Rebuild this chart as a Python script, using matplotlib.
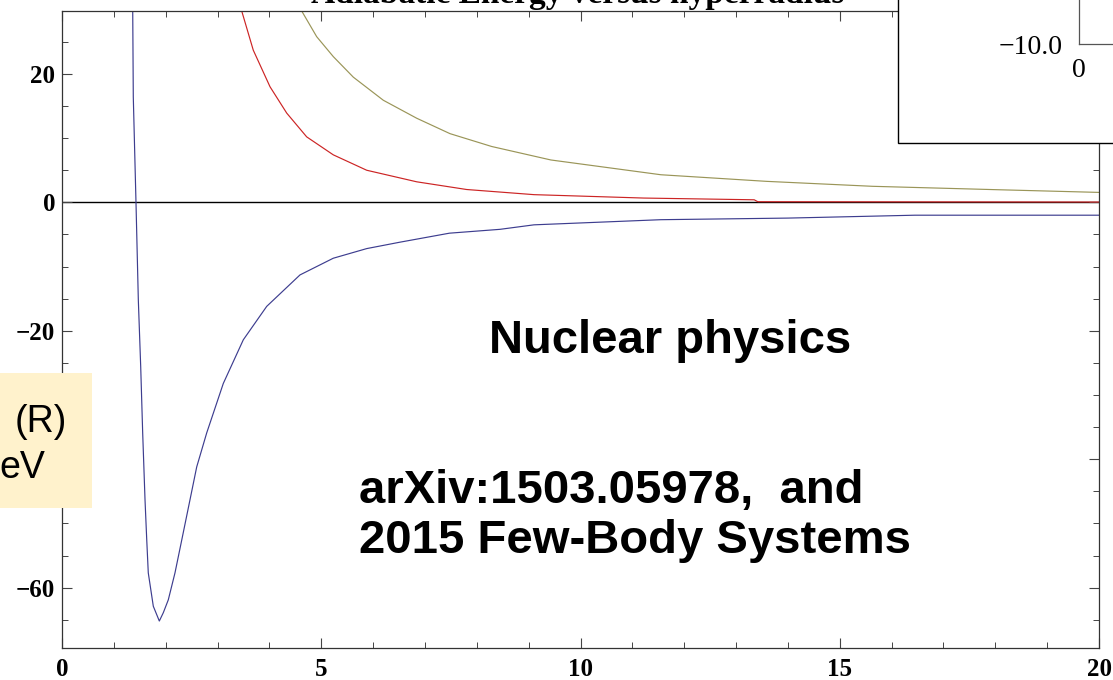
import matplotlib
matplotlib.use("Agg")
import matplotlib.pyplot as plt
from matplotlib.patches import Rectangle
from matplotlib.ticker import MultipleLocator

# hyperradius R and adiabatic energies
r_blue = [1.364, 1.375, 1.427, 1.472, 1.518, 1.556, 1.601, 1.634, 1.664, 1.761,
          1.877, 1.954, 2.050, 2.179, 2.309, 2.469, 2.598, 2.791, 3.111, 3.497,
          3.948, 4.590, 5.232, 5.877, 6.519, 7.472, 8.448, 9.103, 11.55, 14.00,
          16.45, 20.0]
e_blue = [29.8, 16.4, 0.0, -15.2, -25.6, -35.9, -46.3, -52.5, -57.7, -62.9,
          -65.2, -63.9, -61.9, -57.7, -52.6, -46.3, -41.2, -35.9, -28.2, -21.4,
          -16.2, -11.3, -8.7, -7.2, -6.2, -4.8, -4.2, -3.5, -2.7, -2.45,
          -2.0, -2.0]

r_red = [3.466, 3.689, 4.012, 4.334, 4.719, 5.232, 5.877, 6.841, 7.805, 9.103,
         11.22, 13.35, 13.42, 16.0, 20.0]
e_red = [29.8, 23.7, 18.0, 13.9, 10.2, 7.4, 5.0, 3.2, 2.0, 1.2,
         0.67, 0.4, 0.1, 0.08, 0.05]

r_olive = [4.623, 4.912, 5.232, 5.618, 6.197, 6.841, 7.483, 8.287, 9.429, 11.55,
           13.59, 15.63, 18.08, 20.0]
e_olive = [29.8, 25.8, 22.7, 19.5, 15.9, 13.1, 10.7, 8.7, 6.6, 4.3,
           3.27, 2.5, 1.96, 1.55]

x_ticks = [0, 5, 10, 15, 20]
y_ticks = [-60, -40, -20, 0, 20]
# the -40 label sits under the yellow box in the reference
y_tick_labels = ['\u221260', '', '\u221220', '0', '20']

W, H = 1113, 680
fig = plt.figure(figsize=(W / 100, H / 100), dpi=100)
ax = fig.add_axes([62 / W, (H - 648) / H, (1099 - 62) / W, (648 - 11) / H])
ax.set_zorder(0)

ax.plot(r_blue, e_blue, color='#3d3d8f', lw=0.85)
ax.plot(r_red, e_red, color='#cc2424', lw=0.85)
ax.plot(r_olive, e_olive, color='#9a9558', lw=0.85)
ax.axhline(0, color='black', lw=1.0, zorder=1)

ax.set_xlim(0, 20)
ax.set_ylim(-69.4, 29.8)
ax.set_xticks(x_ticks)
ax.set_yticks(y_ticks)
ax.set_yticklabels(y_tick_labels)
ax.xaxis.set_minor_locator(MultipleLocator(1))
ax.yaxis.set_minor_locator(MultipleLocator(5))
ax.tick_params(which='both', direction='in', top=True, right=True, color='#444444')
ax.tick_params(which='major', length=7, width=0.8)
ax.tick_params(which='minor', length=4, width=0.7)
ax.tick_params(axis='y', pad=5)
ax.tick_params(axis='x', pad=7)
for lab in ax.get_xticklabels() + ax.get_yticklabels():
    lab.set_fontfamily('Liberation Serif')
    lab.set_fontweight('bold')
    lab.set_fontsize(18)
for sp in ax.spines.values():
    sp.set_color('#333333')
    sp.set_linewidth(0.9)

# title, cut off at the top
fig.text(578 / W, (H - 3.5) / H, 'Adiabatic Energy versus hyperradius',
         ha='center', va='baseline', family='Liberation Serif',
         fontweight='bold', fontsize=24)

# annotations
fig.text(489 / W, (H - 353) / H, 'Nuclear physics', ha='left', va='baseline',
         family='Liberation Sans', fontweight='bold', fontsize=34)
fig.text(359 / W, (H - 503) / H, 'arXiv:1503.05978,  and', ha='left', va='baseline',
         family='Liberation Sans', fontweight='bold', fontsize=34)
fig.text(359 / W, (H - 553) / H, '2015 Few-Body Systems', ha='left', va='baseline',
         family='Liberation Sans', fontweight='bold', fontsize=34)

# yellow label box on the left
fig.patches.append(Rectangle((0, (H - 508) / H), 92 / W, (508 - 373) / H,
                             transform=fig.transFigure, facecolor='#fff2cc',
                             edgecolor='none', zorder=2))
fig.text(67 / W, (H - 432) / H, '(R)', ha='right', va='baseline',
         family='Liberation Sans', fontsize=27, zorder=3)
fig.text(45 / W, (H - 478) / H, 'eV', ha='right', va='baseline',
         family='Liberation Sans', fontsize=27, zorder=3)

# inset box in the top-right corner
fig.patches.append(Rectangle((898 / W, (H - 143) / H), 0.3, 0.3,
                             transform=fig.transFigure, facecolor='white',
                             edgecolor='black', lw=1.0, zorder=2))
ins = fig.add_axes([1079 / W, (H - 44) / H, 0.1, 0.1])
ins.set_zorder(3)
ins.patch.set_alpha(0)
ins.set_xlim(0, 10)
ins.set_ylim(-10, 0)
ins.set_xticks([0])
ins.set_xticklabels(['0'])
ins.set_yticks([-10])
ins.set_yticklabels(['\u221210.0'])
ins.tick_params(length=0, labelsize=20)
ins.tick_params(axis='y', pad=12)
ins.tick_params(axis='x', pad=10)
for lab in ins.get_xticklabels() + ins.get_yticklabels():
    lab.set_fontfamily('Liberation Serif')
for name, sp in ins.spines.items():
    sp.set_color('#555555')
    sp.set_linewidth(0.9)
    if name in ('top', 'right'):
        sp.set_visible(False)

fig.savefig('out.png', dpi=100)
